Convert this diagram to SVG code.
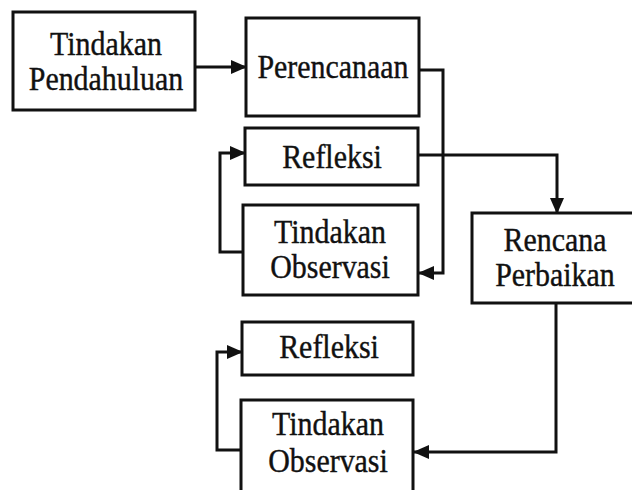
<svg xmlns="http://www.w3.org/2000/svg" width="632" height="490" viewBox="0 0 632 490">
<style>
.box{fill:#fff;stroke:#111;stroke-width:3}
.t{font-family:"Liberation Serif","Times New Roman",serif;font-size:34px;fill:#111;stroke:#111;stroke-width:0.4;text-anchor:middle}
.c{fill:none;stroke:#111;stroke-width:3}
</style>
<defs>
<marker id="ah" markerUnits="userSpaceOnUse" markerWidth="16" markerHeight="14" refX="15" refY="7" orient="auto">
<path d="M0,0 L16,7 L0,14 Z" fill="#111"/>
</marker>
</defs>
<rect width="632" height="490" fill="#fff"/>
<g id="connectors">
<path class="c" d="M195,67 H246" marker-end="url(#ah)"/>
<path class="c" d="M419,70 H443 V273 H419" marker-end="url(#ah)"/>
<path class="c" d="M418,155 H557 V213" marker-end="url(#ah)"/>
<path class="c" d="M243,252 H220 V153 H245" marker-end="url(#ah)"/>
<path class="c" d="M556,303 V452 H414" marker-end="url(#ah)"/>
<path class="c" d="M241,450 H217 V352 H242" marker-end="url(#ah)"/>
</g>
<g id="tindakan-pendahuluan">
<rect class="box" x="13" y="12" width="182" height="98"/>
<text class="t" transform="translate(106,55) scale(0.88,1)">Tindakan</text>
<text class="t" transform="translate(106,90) scale(0.88,1)">Pendahuluan</text>
</g>
<g id="perencanaan">
<rect class="box" x="246" y="18" width="173" height="98"/>
<text class="t" transform="translate(333,78) scale(0.88,1)">Perencanaan</text>
</g>
<g id="refleksi-1">
<rect class="box" x="245" y="128" width="173" height="57"/>
<text class="t" transform="translate(332,168) scale(0.88,1)">Refleksi</text>
</g>
<g id="tindakan-observasi-1">
<rect class="box" x="243" y="205" width="175" height="90"/>
<text class="t" transform="translate(330,243) scale(0.88,1)">Tindakan</text>
<text class="t" transform="translate(330,278) scale(0.88,1)">Observasi</text>
</g>
<g id="rencana-perbaikan">
<rect class="box" x="472" y="213" width="175" height="90"/>
<text class="t" transform="translate(555,251) scale(0.88,1)">Rencana</text>
<text class="t" transform="translate(555,286) scale(0.88,1)">Perbaikan</text>
</g>
<g id="refleksi-2">
<rect class="box" x="242" y="322" width="171" height="53"/>
<text class="t" transform="translate(329,358) scale(0.88,1)">Refleksi</text>
</g>
<g id="tindakan-observasi-2">
<rect class="box" x="241" y="400" width="172" height="100"/>
<text class="t" transform="translate(328,435) scale(0.88,1)">Tindakan</text>
<text class="t" transform="translate(328,472) scale(0.88,1)">Observasi</text>
</g>
</svg>
